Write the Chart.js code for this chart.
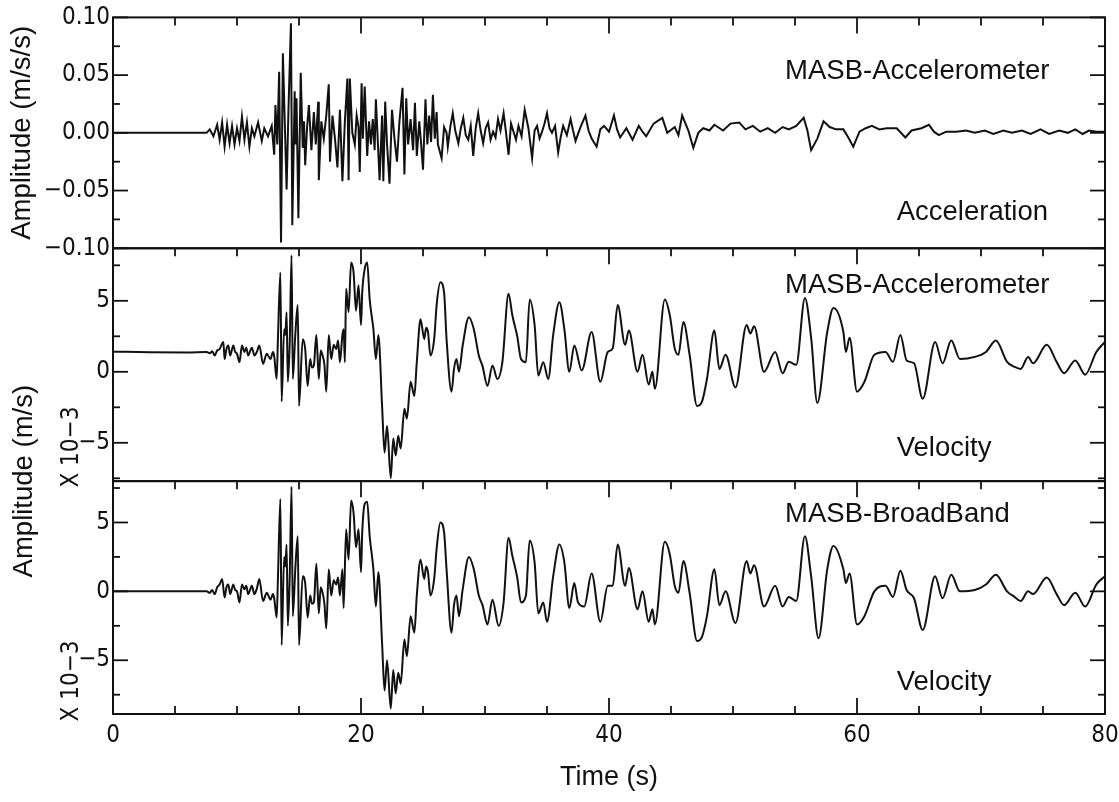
<!DOCTYPE html>
<html>
<head>
<meta charset="utf-8">
<script src="https://cdn.jsdelivr.net/npm/chart.js@4.4.1/dist/chart.umd.min.js"></script>
<style>
  html, body { margin: 0; background: #fff; }
  #wrap { width: 1119px; height: 802px; position: relative; }
</style>
</head>
<body>
<div id="wrap"><canvas id="seis"></canvas></div>
<script>
// Time axis (s) and tick labels
const xTicks = [0, 20, 40, 60, 80];
const accTicks = [-0.1, -0.05, 0, 0.05, 0.1];
const velTicks = [-5, 0, 5];

// Acceleration, MASB accelerometer (m/s/s) : [time, value]
const accTrace = [
  [0,0],[7.4,0],[7.55,0],[7.8,0.003],[8.1,-0.003],[8.4,0.007],[8.6,-0.006],[8.8,0.009],[9.0,-0.012],
  [9.2,0.007],[9.4,-0.009],[9.6,0.006],[9.8,-0.010],[10.0,0.004],[10.2,-0.007],[10.4,0.014],[10.6,-0.006],
  [10.8,0.009],[11.0,-0.012],[11.2,0.004],[11.4,-0.003],[11.7,0.009],[12.0,-0.007],[12.2,0.004],[12.5,-0.003],
  [12.8,0.006],[13.0,-0.019],[13.1,0.024],[13.25,-0.01],[13.4,0.053],[13.55,-0.095],[13.7,0.069],[14.0,-0.049],
  [14.15,0.02],[14.35,0.095],[14.46,-0.080],[14.65,0.036],[14.72,-0.01],[14.8,0.03],[14.95,-0.074],[15.14,0.052],
  [15.3,-0.013],[15.4,0.01],[15.5,-0.028],[15.65,0.005],[15.8,0.024],[16.0,-0.015],[16.2,0.018],[16.35,-0.01],
  [16.55,0.027],[16.6,-0.041],[16.8,0.01],[17.0,-0.005],[17.2,0.015],[17.4,0.042],[17.5,-0.025],[17.7,0.015],
  [17.9,-0.005],[18.1,-0.030],[18.3,0.02],[18.5,-0.042],[18.7,0.01],[18.9,0.047],[19.0,-0.041],[19.1,0.047],
  [19.3,0.0],[19.5,-0.01],[19.65,0.015],[19.8,0.005],[19.9,-0.034],[20.05,0.043],[20.15,-0.005],[20.3,0.04],
  [20.5,-0.02],[20.65,0.01],[20.8,-0.01],[20.95,0.012],[21.1,-0.015],[21.2,0.029],[21.5,-0.041],[21.7,0.015],
  [21.8,-0.042],[21.95,0.027],[22.1,-0.01],[22.3,-0.044],[22.5,0.02],[22.7,-0.005],[22.9,-0.025],[23.1,0.01],
  [23.35,0.039],[23.5,-0.036],[23.65,0.03],[23.8,-0.01],[24.0,0.012],[24.2,-0.015],[24.35,0.026],[24.5,-0.02],
  [24.7,0.01],[24.85,-0.01],[25.0,-0.032],[25.2,0.029],[25.35,-0.01],[25.5,0.015],[25.65,-0.008],[25.8,0.033],
  [25.95,-0.005],[26.1,0.018],[26.2,-0.01],[26.5,-0.022],[26.7,0.005],[26.9,0.0],[27.0,-0.012],[27.2,0.005],
  [27.4,0.017],[27.6,0.002],[27.85,-0.009],[28.05,0.004],[28.25,0.013],[28.45,-0.002],[28.65,-0.006],[28.85,0.006],
  [29.05,-0.020],[29.25,0.004],[29.45,0.017],[29.65,0.002],[29.85,-0.009],[30.05,0.004],[30.25,0.009],[30.45,-0.006],
  [30.65,0.001],[30.85,-0.004],[31.05,0.012],[31.25,0.002],[31.5,0.017],[31.7,0.0],[31.9,-0.019],[32.1,0.008],
  [32.3,0.001],[32.5,-0.006],[32.7,0.006],[32.95,-0.003],[33.2,0.020],[33.5,0.004],[33.8,-0.022],[34.0,0.002],
  [34.2,0.006],[34.4,-0.005],[34.6,0.001],[34.8,0.008],[35.0,0.017],[35.2,0.004],[35.4,0],[35.65,0.006],
  [35.9,-0.017],[36.1,-0.004],[36.3,0.006],[36.6,-0.002],[36.9,0.012],[37.1,0.002],[37.3,-0.007],[37.7,0.005],
  [38.1,0.015],[38.35,0.002],[38.6,-0.005],[39.0,-0.012],[39.3,0.003],[39.6,0.006],[40.0,0.001],[40.4,0.015],
  [40.65,0.003],[40.9,-0.004],[41.4,0.004],[41.9,-0.006],[42.4,0.006],[42.7,0.001],[43.0,-0.003],[43.6,0.008],
  [44.3,0.013],[44.7,0],[45.3,0.005],[45.6,-0.002],[45.9,0.015],[46.4,0.002],[46.8,-0.013],[47.2,0.0],
  [47.6,0.004],[48.1,0.002],[48.5,0.007],[49.2,0.002],[49.8,0.008],[50.5,0.009],[51.0,0.003],[51.6,0.006],
  [52.2,0.001],[52.8,0.004],[53.4,0],[54.0,0.005],[54.5,0.003],[55.1,0.006],[55.7,0.013],[56.0,0.002],
  [56.3,-0.015],[56.8,-0.005],[57.3,0.010],[57.8,0.005],[58.3,0.003],[58.9,0.003],[59.3,-0.004],[59.7,-0.012],
  [60.2,0.001],[60.7,0.004],[61.2,0.006],[61.8,0.003],[62.4,0.004],[63.2,0.004],[63.9,-0.004],[64.4,0.002],
  [65.2,0.004],[65.8,0.007],[66.2,0.001],[66.6,-0.002],[67.2,0.001],[68.0,0.001],[68.8,0.002],[69.5,0.000],
  [70.3,0.002],[71.0,-0.001],[71.8,0.002],[72.5,0.000],[73.3,0.002],[74.0,-0.001],[74.8,0.003],[75.5,-0.001],
  [76.3,0.002],[77.0,0.000],[77.6,0.003],[78.2,-0.001],[78.7,0.002],[79.3,0.001],[80,0.001]
];

// Velocity, MASB accelerometer (x 10^-3 m/s)
const velAccTrace = [
  [0,1.42],[3,1.38],[6,1.36],[7.55,1.39],[7.8,1.3],[8.0,1.45],[8.2,1.15],[8.4,1.5],[8.6,1.6],[8.9,2.1],
  [9.0,0.9],[9.15,1.6],[9.3,1.85],[9.45,1.15],[9.7,1.85],[9.85,1.4],[10.0,1.27],[10.2,0.68],[10.4,1.85],
  [10.6,1.4],[10.75,1.7],[10.9,1.15],[11.2,1.7],[11.4,1.15],[11.6,1.4],[11.8,1.85],[12.1,0.56],[12.4,1.27],
  [12.7,0.9],[12.9,1.4],[13.0,1.1],[13.2,-0.5],[13.3,2.3],[13.5,7.0],[13.6,-2.1],[13.8,3.0],[13.9,2.6],
  [14.0,4.2],[14.1,-0.7],[14.25,2.0],[14.4,8.2],[14.5,-0.5],[14.7,2.6],[14.9,4.7],[15.0,-2.4],[15.3,2.3],
  [15.5,1.6],[15.7,-1.0],[15.9,0.9],[16.05,0.3],[16.2,0.45],[16.4,2.6],[16.6,-0.5],[16.75,1.5],[16.9,1.15],
  [17.05,0.5],[17.2,-1.4],[17.4,2.6],[17.6,0.9],[17.8,1.9],[18.0,1.6],[18.15,2.2],[18.3,0.68],[18.5,2.6],
  [18.6,3.0],[18.7,0.68],[18.8,5.85],[19.0,4.2],[19.2,7.7],[19.4,7.0],[19.6,4.3],[19.8,6.1],[20.0,3.3],
  [20.1,5.6],[20.3,7.25],[20.5,7.7],[20.7,5.1],[21.0,3.0],[21.2,0.9],[21.4,2.6],[21.7,-2.4],[21.9,-5.7],
  [22.1,-3.8],[22.4,-7.5],[22.6,-4.7],[22.8,-5.9],[23.0,-4.5],[23.2,-5.4],[23.5,-2.6],[23.7,-3.3],[24.0,-0.7],
  [24.3,-1.7],[24.5,0.68],[24.8,3.7],[25.1,2.3],[25.25,3.1],[25.4,2.8],[25.6,1.15],[25.9,2.3],[26.1,4.7],
  [26.4,6.3],[26.7,5.6],[26.9,2.3],[27.3,-1.4],[27.5,0.2],[27.7,0.9],[27.9,0],[28.2,1.85],[28.7,3.85],
  [29.1,3.0],[29.5,1.15],[29.8,0.4],[30.2,-1.0],[30.6,0.45],[31.0,-0.5],[31.4,0.68],[31.9,5.5],[32.2,4.0],
  [32.6,2.5],[32.9,0.9],[33.3,0.68],[33.6,5.1],[34.0,3.3],[34.3,-0.26],[34.7,0.68],[35.1,-0.5],[35.5,2.6],
  [36.0,4.9],[36.4,3.0],[36.8,0],[37.2,1.85],[37.8,0.1],[38.6,2.8],[39.3,-0.7],[39.9,1.4],[40.3,1.65],
  [40.7,4.7],[41.3,1.9],[41.6,2.9],[42.3,0],[42.7,1.2],[43.2,-0.9],[43.5,0],[43.7,-1.2],[44.5,5.1],
  [44.9,4.0],[45.3,1.65],[45.6,1.2],[46.0,3.5],[46.5,1.2],[47.1,-2.4],[47.5,-2.1],[47.9,-0.5],[48.5,2.9],
  [48.9,0.2],[49.4,1.2],[50.2,-1.1],[51.1,3.3],[51.4,2.7],[51.7,3.2],[52.5,0],[53.4,1.4],[54.0,-0.1],
  [54.5,0.7],[55.1,0.5],[55.8,5.2],[56.3,2.4],[56.8,-2.2],[57.6,2.8],[58.1,4.5],[58.9,2.8],[59.1,1.4],
  [59.4,2.4],[60.0,-1.4],[60.6,-0.7],[61.4,1.2],[62.3,1.4],[62.9,0.7],[63.5,2.6],[64.0,0.8],[64.6,0.6],
  [65.3,-1.9],[66.3,2.1],[66.9,0.6],[67.6,2.2],[68.3,0.9],[69.5,1.05],[70.4,1.4],[71.2,2.2],[72.1,0.7],
  [72.7,0.35],[73.2,0.2],[73.8,1.05],[74.2,0.6],[75.3,1.9],[76.1,0.7],[76.7,-0.1],[77.6,0.8],[78.4,-0.2],
  [79.3,1.4],[80,2.1]
];

// Velocity, MASB broadband (x 10^-3 m/s)
const velBBTrace = [
  [0,0],[7.4,0],[7.55,0],[7.8,-0.1],[8.0,0.1],[8.2,-0.2],[8.4,0.3],[8.6,0.5],[8.8,0.9],[9.0,-0.45],
  [9.15,0.3],[9.3,0.5],[9.45,-0.2],[9.7,0.5],[9.85,0.1],[10.0,0],[10.2,-0.8],[10.4,0.5],[10.6,0.15],
  [10.75,0.4],[10.9,-0.2],[11.2,0.4],[11.4,-0.2],[11.6,0.2],[11.8,0.9],[12.1,-0.7],[12.4,-0.1],[12.7,-0.6],
  [12.9,-0.2],[13.0,-0.5],[13.2,-1.9],[13.3,0.9],[13.5,6.7],[13.6,-3.9],[13.8,2.5],[13.9,1.8],[14.0,3.4],
  [14.1,-2.5],[14.25,1.0],[14.4,7.6],[14.5,-1.8],[14.7,1.6],[14.9,4.0],[15.0,-3.9],[15.3,1.1],[15.5,0.6],
  [15.7,-1.9],[15.9,-0.3],[16.05,-0.9],[16.2,-0.8],[16.4,2.0],[16.6,-1.6],[16.75,0.3],[16.9,-0.1],[17.05,-0.9],
  [17.2,-2.7],[17.4,1.6],[17.6,-0.3],[17.8,0.8],[18.0,0.5],[18.15,1.0],[18.3,-0.3],[18.5,1.6],[18.6,-1.2],
  [18.8,4.5],[19.0,2.3],[19.2,6.6],[19.4,5.7],[19.6,3.2],[19.8,4.5],[20.0,1.4],[20.1,4.3],[20.3,6.35],
  [20.5,6.5],[20.7,4.0],[21.0,1.6],[21.2,-1.1],[21.4,1.4],[21.7,-3.75],[21.9,-7.2],[22.1,-5.0],[22.4,-8.5],
  [22.6,-5.7],[22.8,-7.4],[23.0,-5.9],[23.2,-6.7],[23.5,-3.5],[23.7,-4.7],[24.0,-1.8],[24.3,-3.0],[24.5,-0.3],
  [24.8,2.3],[25.1,0.9],[25.25,1.8],[25.4,1.4],[25.6,-0.3],[25.9,0.9],[26.1,3.1],[26.4,5.0],[26.7,4.3],
  [26.9,1.6],[27.3,-3.0],[27.5,-1.0],[27.7,-0.3],[27.9,-1.8],[28.2,0.15],[28.7,2.5],[29.1,1.6],[29.5,-0.3],
  [29.8,-1.0],[30.2,-2.4],[30.6,-0.6],[31.1,-2.5],[31.5,-0.8],[31.9,3.9],[32.2,2.6],[32.6,1.0],[32.9,-0.8],
  [33.3,-0.3],[33.6,3.7],[34.0,2.1],[34.3,-1.6],[34.7,-0.8],[35.0,-2.2],[35.5,1.1],[36.0,3.4],[36.4,2.1],
  [36.8,-1.2],[37.2,0.6],[37.5,-0.8],[38.0,-1.1],[38.6,1.3],[39.3,-2.2],[39.9,0.4],[40.3,0.4],[40.7,3.4],
  [41.3,0.4],[41.6,1.7],[42.3,-1.3],[42.7,0],[43.2,-2.2],[43.5,-1.3],[43.7,-2.4],[44.5,3.6],[44.9,2.7],
  [45.3,0.4],[45.6,-0.1],[46.0,2.2],[46.5,-0.1],[47.1,-3.6],[47.5,-3.3],[47.9,-1.8],[48.5,1.6],[48.9,-1.0],
  [49.4,0],[50.2,-2.3],[51.1,2.2],[51.4,1.3],[51.7,1.9],[52.5,-1.1],[53.4,0.4],[54.0,-1.1],[54.5,-0.4],
  [55.1,-0.7],[55.8,4.0],[56.3,1.1],[56.9,-3.4],[57.6,1.6],[58.1,3.3],[58.9,1.6],[59.1,0.6],[59.4,1.3],
  [60.0,-2.4],[60.6,-1.8],[61.4,0],[62.3,0.4],[62.9,-0.4],[63.5,1.5],[64.0,0.1],[64.6,-0.5],[65.3,-2.8],
  [66.3,1.1],[66.9,-0.5],[67.6,1.2],[68.3,0],[69.5,0.1],[70.4,0.5],[71.2,1.2],[72.1,0],[72.7,-0.4],
  [73.2,-0.7],[73.8,0],[74.2,-0.2],[75.3,1.0],[76.1,-0.2],[76.7,-1.0],[77.6,-0.1],[78.4,-1.1],[79.3,0.5],
  [80,1.1]
];

const stations = ['MASB-Accelerometer', 'MASB-Accelerometer', 'MASB-BroadBand'];
const quantities = ['Acceleration', 'Velocity', 'Velocity'];

const SANS = "'Liberation Sans', Arial, sans-serif";
const NARROW = "'Liberation Sans Narrow', 'DejaVu Sans Condensed', sans-serif";
const INK = '#111';

const toXY = arr => arr.map(p => ({ x: p[0], y: p[1] }));
const fmtMinus = s => s.replace('-', '\u2212');

// one y axis per panel, stacked top to bottom
const panels = [
  { axis: 'yAcc', step: 0.025, major: 0.05, labelY: [0.053, -0.069], mult: null },
  { axis: 'yVelA', step: 2.5, major: 5, labelY: [6.05, -5.4], mult: -5.3 },
  { axis: 'yVelB', step: 2.5, major: 5, labelY: [5.6, -6.6], mult: -6.5 }
];

function yScale(opts) {
  return Object.assign({
    type: 'linear',
    position: 'left',
    stack: 'panels',
    grid: { display: false, drawTicks: false },
    border: { display: false },
    ticks: {
      color: INK, padding: 3,
      font: { family: NARROW, size: 24 },
      callback: v => fmtMinus(String(v))
    },
    afterFit: s => { s.width = 113; }
  }, opts);
}

const frames = {
  id: 'frames',
  afterDatasetsDraw(chart) {
    const { ctx, chartArea: a, scales } = chart;
    const xs = scales.x;
    ctx.save();
    ctx.strokeStyle = INK;
    const seg = (x1, y1, x2, y2) => { ctx.beginPath(); ctx.moveTo(x1, y1); ctx.lineTo(x2, y2); ctx.stroke(); };
    panels.forEach((p, i) => {
      const ys = scales[p.axis];
      ctx.lineWidth = 2;
      ctx.strokeRect(a.left, ys.top, a.right - a.left, ys.bottom - ys.top);
      ctx.lineWidth = 1.8;
      for (let t = 5; t < 80; t += 5) {
        const px = xs.getPixelForValue(t);
        const len = t % 20 === 0 ? 16 : 8;
        seg(px, ys.top, px, ys.top + len);
        if (i === panels.length - 1) seg(px, ys.bottom, px, ys.bottom - len);
      }
      const lo = Math.ceil(ys.min / p.step) * p.step;
      for (let v = lo; v <= ys.max + 1e-9; v += p.step) {
        const py = ys.getPixelForValue(v);
        const isMajor = Math.abs(v / p.major - Math.round(v / p.major)) < 1e-6;
        const len = isMajor ? 15 : 7;
        seg(a.left, py, a.left + len, py);
        seg(a.right, py, a.right - len, py);
      }
    });
    ctx.restore();
  },
  afterDraw(chart) {
    const { ctx, chartArea: a, scales } = chart;
    const xs = scales.x;
    ctx.save();
    ctx.fillStyle = INK;
    ctx.textBaseline = 'middle';
    ctx.textAlign = 'left';
    ctx.font = '27.5px ' + SANS;
    panels.forEach((p, i) => {
      const ys = scales[p.axis];
      ctx.fillText(stations[i], xs.getPixelForValue(54.2), ys.getPixelForValue(p.labelY[0]));
      ctx.fillText(quantities[i], xs.getPixelForValue(63.2), ys.getPixelForValue(p.labelY[1]));
    });
    // rotated labels
    const rot = (text, x, y, font) => {
      ctx.save();
      ctx.translate(x, y);
      ctx.rotate(-Math.PI / 2);
      ctx.textAlign = 'center';
      ctx.font = font;
      ctx.fillText(text, 0, 0);
      ctx.restore();
    };
    rot('Amplitude (m/s)', 24, scales.yVelA.bottom, '27.5px ' + SANS);
    panels.forEach(p => {
      if (p.mult !== null) rot('X 10\u22123', a.left - 41, scales[p.axis].getPixelForValue(p.mult), '24px ' + NARROW);
    });
    ctx.restore();
  }
};

new Chart(document.getElementById('seis'), {
  type: 'line',
  data: {
    datasets: [
      { label: 'Acceleration', data: toXY(accTrace), yAxisID: 'yAcc', borderColor: INK, borderWidth: 2, pointRadius: 0, tension: 0 },
      { label: 'Velocity (accelerometer)', data: toXY(velAccTrace), yAxisID: 'yVelA', borderColor: INK, borderWidth: 2, pointRadius: 0, cubicInterpolationMode: 'monotone' },
      { label: 'Velocity (broadband)', data: toXY(velBBTrace), yAxisID: 'yVelB', borderColor: INK, borderWidth: 2, pointRadius: 0, cubicInterpolationMode: 'monotone' }
    ]
  },
  options: {
    responsive: true,
    maintainAspectRatio: false,
    animation: false,
    events: [],
    layout: { padding: { top: 17, right: 14, left: 0, bottom: 0 } },
    plugins: { legend: { display: false }, tooltip: { enabled: false } },
    scales: {
      x: {
        type: 'linear', min: 0, max: 80, position: 'bottom',
        grid: { display: false, drawTicks: false },
        border: { display: false },
        afterBuildTicks: s => { s.ticks = xTicks.map(v => ({ value: v })); },
        afterFit: s => { s.height = 88; s.paddingLeft = 0; s.paddingRight = 0; },
        ticks: { color: INK, padding: 7, maxRotation: 0, autoSkip: false, font: { family: NARROW, size: 24 } },
        title: { display: true, text: 'Time (s)', color: INK, font: { family: SANS, size: 27 }, padding: { top: 0, bottom: 8 } }
      },
      yAcc: yScale({
        weight: 3, stackWeight: 231, min: -0.1, max: 0.1,
        afterBuildTicks: s => { s.ticks = accTicks.map(v => ({ value: v })); },
        ticks: { color: INK, padding: 3, font: { family: NARROW, size: 24 }, callback: v => fmtMinus(v.toFixed(2)) },
        title: { display: true, text: 'Amplitude (m/s/s)', color: INK, font: { family: SANS, size: 27.5 }, padding: { top: 6, bottom: 0 } }
      }),
      yVelA: yScale({
        weight: 2, stackWeight: 233, min: -7.7, max: 8.7,
        afterBuildTicks: s => { s.ticks = velTicks.map(v => ({ value: v })); }
      }),
      yVelB: yScale({
        weight: 1, stackWeight: 233, min: -8.9, max: 8.0,
        afterBuildTicks: s => { s.ticks = velTicks.map(v => ({ value: v })); }
      })
    }
  },
  plugins: [frames]
});
</script>
</body>
</html>
